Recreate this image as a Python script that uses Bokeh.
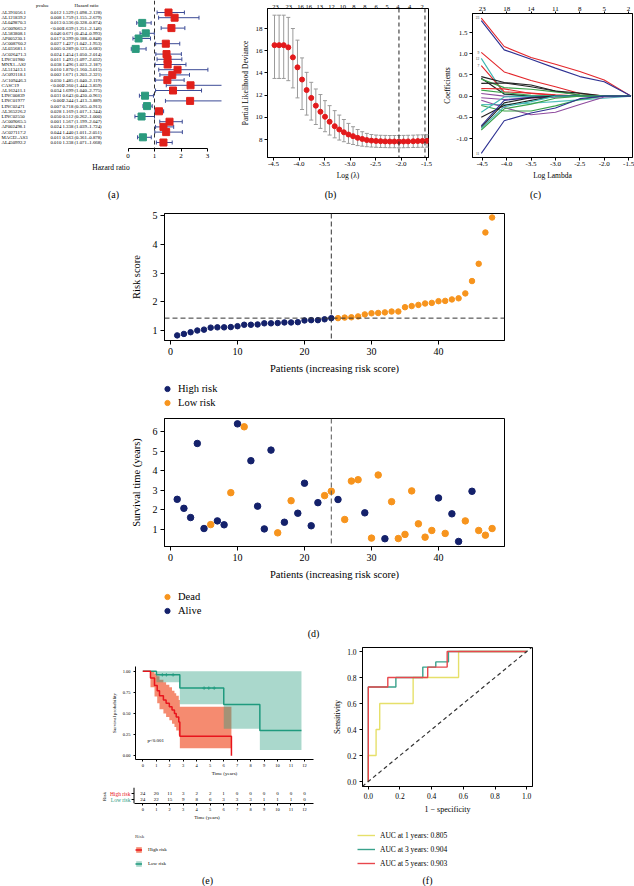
import math
from bokeh.plotting import figure
from bokeh.models import (Range1d, LinearAxis, FixedTicker, Span, Legend,
                          LegendItem, NumeralTickFormatter, Slope)
from bokeh.layouts import row, column
from bokeh.embed import file_html
from bokeh.resources import INLINE
from bokeh.core.properties import value

# ---------------- data: (a) univariate Cox forest ----------------
genes = ["AL391056.1", "AL121839.2", "AL049870.3", "AC009065.2", "AL583808.1", "AP005230.1",
         "AC008760.2", "AL035681.1", "AC026471.3", "LINC01980", "MNX1–AS2", "AL513413.1",
         "AC092118.1", "AC109446.3", "CASC19", "AL162411.1", "LINC00839", "LINC01977",
         "LINC02471", "AL365226.2", "LINC02550", "AC009065.5", "AP002498.1", "AC027117.2",
         "MAGI2–AS3", "AL450992.2"]
pvalues = ["0.012", "0.008", "0.013", "<0.001", "0.046", "0.017", "0.027", "0.005", "0.024",
           "0.011", "0.038", "0.010", "0.002", "0.030", "<0.001", "0.034", "0.031", "<0.001",
           "0.007", "0.028", "0.050", "0.001", "0.024", "0.044", "0.011", "0.010"]
hr = [1.529, 1.759, 0.536, 1.639, 0.671, 0.399, 1.427, 0.289, 1.454, 1.493, 1.496, 1.870, 1.671,
      1.485, 2.360, 1.699, 0.643, 2.344, 0.718, 1.169, 0.512, 1.567, 1.338, 1.440, 0.563, 1.338]
hr_low = [1.098, 1.155, 0.328, 1.251, 0.454, 0.188, 1.042, 0.123, 1.050, 1.097, 1.023, 1.160, 1.203,
          1.040, 1.444, 1.040, 0.430, 1.413, 0.565, 1.017, 0.262, 1.199, 1.039, 1.011, 0.361, 1.071]
hr_high = [2.128, 2.679, 0.874, 2.146, 0.993, 0.848, 1.953, 0.683, 2.014, 2.032, 2.187, 3.015, 2.321,
           2.119, 3.859, 2.775, 0.961, 3.889, 0.913, 1.344, 1.000, 2.047, 1.724, 2.051, 0.878, 1.668]
hr_ticks = [0, 1, 2, 3]

# ---------------- data: (b) cross-validation ----------------
cv_loglam = [-4.48, -4.39, -4.30, -4.21, -4.12, -4.03, -3.94, -3.85, -3.76, -3.67, -3.58, -3.49,
             -3.40, -3.30, -3.21, -3.12, -3.03, -2.94, -2.85, -2.76, -2.67, -2.58, -2.49, -2.40,
             -2.31, -2.22, -2.13, -2.04, -1.95, -1.86, -1.76, -1.67, -1.58, -1.49]
cv_dev = [16.5, 16.5, 16.5, 16.3, 15.4, 14.5, 13.4, 12.45, 11.75, 11.05, 10.5, 10.05, 9.6, 9.2,
          8.9, 8.65, 8.45, 8.3, 8.15, 8.05, 7.95, 7.9, 7.87, 7.85, 7.83, 7.82, 7.82, 7.81, 7.82,
          7.83, 7.84, 7.86, 7.87, 7.88]
cv_low = [13.5, 13.5, 13.5, 13.3, 12.65, 11.75, 10.7, 10.2, 9.75, 9.35, 9.0, 8.7, 8.4, 8.15, 7.95,
          7.8, 7.65, 7.55, 7.45, 7.4, 7.35, 7.32, 7.3, 7.28, 7.27, 7.26, 7.26, 7.25, 7.26, 7.27,
          7.28, 7.29, 7.3, 7.31]
cv_up = [19.2, 19.2, 19.2, 19.0, 18.0, 16.95, 15.35, 14.05, 13.15, 12.55, 12.05, 11.5, 11.05, 10.6,
         10.2, 9.8, 9.45, 9.15, 8.9, 8.7, 8.55, 8.45, 8.4, 8.38, 8.37, 8.36, 8.36, 8.36, 8.37,
         8.38, 8.39, 8.41, 8.42, 8.43]
cv_nz_pos = [-4.461, -4.20, -3.971, -3.807, -3.592, -3.363, -3.141, -2.925, -2.71, -2.487,
             -2.271, -2.063, -1.833, -1.584]
cv_nz_lab = ["23", "23", "16", "16", "13", "12", "10", "8", "8", "6", "5", "4", "4", "2"]
cv_lambda_min = -2.04
cv_lambda_1se = -1.53
cv_xticks = [-4.5, -4.0, -3.5, -3.0, -2.5, -2.0, -1.5]
cv_yticks = [8, 10, 12, 14, 16, 18]

# ---------------- data: (c) coefficient paths ----------------
coef_knots = [-4.52, -4.05, -3.5, -3.0, -2.5, -2.0, -1.45]
coef_paths = [
    [1.84, 1.17, 0.91, 0.75, 0.58, 0.38, 0.0],
    [1.78, 1.09, 0.87, 0.66, 0.46, 0.34, 0.0],
    [1.03, 0.57, 0.37, 0.22, 0.06, 0.0, 0.0],
    [0.89, 0.04, 0.0, 0.0, 0.0, 0.0, 0.0],
    [0.72, 0.10, 0.07, 0.03, 0.0, 0.0, 0.0],
    [0.46, 0.32, 0.26, 0.12, 0.02, 0.0, 0.0],
    [0.42, 0.05, 0.0, 0.0, 0.0, 0.0, 0.0],
    [0.40, 0.20, 0.16, 0.10, 0.03, 0.0, 0.0],
    [0.30, 0.31, 0.22, 0.12, 0.07, 0.0, 0.0],
    [0.18, 0.17, 0.06, 0.02, 0.0, 0.0, 0.0],
    [0.14, 0.08, 0.02, 0.0, 0.0, 0.0, 0.0],
    [0.06, 0.0, -0.03, -0.02, 0.0, 0.0, 0.0],
    [-0.04, -0.08, -0.05, -0.02, 0.0, 0.0, 0.0],
    [-0.20, -0.20, -0.17, -0.13, -0.09, -0.05, 0.0],
    [-0.10, -0.27, -0.44, -0.38, -0.20, -0.02, 0.0],
    [-0.22, -0.35, -0.35, -0.23, -0.08, 0.0, 0.0],
    [-0.38, -0.02, 0.0, 0.0, 0.0, 0.0, 0.0],
    [-0.50, -0.22, -0.10, 0.0, 0.0, 0.0, 0.0],
    [-0.70, -0.10, -0.03, 0.0, 0.0, 0.0, 0.0],
    [-0.74, -0.16, -0.04, 0.0, 0.0, 0.0, 0.0],
    [-0.76, -0.25, -0.13, 0.0, 0.0, 0.0, 0.0],
    [-0.80, -0.30, -0.19, -0.05, 0.0, 0.0, 0.0],
    [-1.35, -0.58, -0.40, -0.28, -0.06, 0.0, 0.0],
]
coef_colors = ["#e3262b", "#2e3192", "#e3262b", "#3fb6b2", "#e3262b", "#222222", "#222222",
               "#3aa24a", "#222222", "#e3262b", "#3aa24a", "#8e4a9e", "#8e4a9e", "#56c1bd",
               "#8e4a9e", "#3aa24a", "#3fb6b2", "#222222", "#2e3192", "#222222", "#3fb6b2",
               "#3aa24a", "#2e3192"]
coef_top_lab = ["23", "18", "14", "11", "8", "5", "2"]
coef_xticks = [-4.5, -4.0, -3.5, -3.0, -2.5, -2.0, -1.5]
coef_yticks = [-1.0, -0.5, 0.0, 0.5, 1.0, 1.5]
coef_tag_y = [1.86, 1.03, 0.89, 0.72, -1.35]
coef_tag_txt = ["23", "9", "12", "7", "11"]

# ---------------- data: (d) risk score & survival ----------------
risk_score = [0.83, 0.88, 0.94, 1.00, 1.03, 1.10, 1.11, 1.11, 1.12, 1.15, 1.20, 1.20, 1.21, 1.25,
              1.25, 1.26, 1.28, 1.28, 1.29, 1.35, 1.36, 1.36, 1.39, 1.43, 1.43, 1.45, 1.46, 1.49,
              1.56, 1.60, 1.61, 1.63, 1.66, 1.66, 1.81, 1.85, 1.89, 1.94, 1.96, 2.02, 2.03, 2.08,
              2.12, 2.29, 2.72, 3.32, 4.41, 4.93]
risk_first_group = [1, 1, 1, 1, 1, 1, 1, 1, 1, 1, 1, 1, 1, 1, 1, 1, 1, 1, 1, 1, 1, 1, 1, 1,
                    0, 0, 0, 0, 0, 0, 0, 0, 0, 0, 0, 0, 0, 0, 0, 0, 0, 0, 0, 0, 0, 0, 0, 0]
risk_cutoff = 1.43
risk_split_patient = 24
surv_years = [2.54, 2.08, 1.61, 5.39, 1.05, 1.25, 1.44, 1.24, 2.88, 6.39, 6.24, 4.51, 2.19, 1.03,
              5.05, 0.83, 1.37, 2.47, 1.83, 3.36, 1.19, 2.37, 2.73, 2.95, 2.53, 1.51, 3.47, 3.54,
              1.85, 0.56, 3.78, 0.53, 2.42, 0.54, 0.75, 2.97, 1.29, 0.61, 0.95, 2.61, 0.80, 1.80,
              0.39, 1.44, 2.95, 0.95, 0.71, 1.05]
surv_dead = [0, 0, 0, 0, 0, 1, 0, 0, 1, 0, 1, 0, 0, 0, 0, 1, 0, 1, 0, 0, 0, 0, 1, 1,
             0, 1, 1, 1, 0, 1, 1, 0, 1, 1, 1, 1, 1, 1, 1, 0, 1, 0, 0, 1, 0, 1, 1, 1]
d_xticks = [0, 10, 20, 30, 40]
risk_yticks = [1, 2, 3, 4, 5]
surv_yticks = [1, 2, 3, 4, 5, 6]

# ---------------- data: (e) Kaplan-Meier ----------------
km_hi_t = [0, 0.57, 0.87, 1.07, 1.24, 1.53, 1.73, 1.97, 2.17, 2.35, 2.48, 2.67, 2.75, 6.58]
km_hi_s = [1.0, 0.92, 0.83, 0.77, 0.71, 0.66, 0.62, 0.58, 0.54, 0.50, 0.46, 0.40, 0.23, 0.0]
km_hi_up = [1.0, 1.0, 0.97, 0.94, 0.90, 0.87, 0.84, 0.81, 0.77, 0.74, 0.71, 0.66, 0.58, 0.0]
km_hi_lo = [1.0, 0.81, 0.70, 0.62, 0.55, 0.50, 0.46, 0.42, 0.38, 0.34, 0.30, 0.24, 0.09, 0.0]
km_lo_t = [0, 1.01, 2.75, 6.01, 8.69, 11.78]
km_lo_s = [1.0, 0.957, 0.80, 0.606, 0.30, 0.30]
km_lo_up = [1.0, 1.0, 1.0, 1.0, 1.0, 1.0]
km_lo_lo = [1.0, 0.87, 0.61, 0.32, 0.07, 0.07]
km_lo_cens_t = [1.45, 1.75, 2.25, 4.55, 4.9, 5.3]
km_lo_cens_s = [0.957, 0.957, 0.957, 0.80, 0.80, 0.80]
km_xticks = [0, 1, 2, 3, 4, 5, 6, 7, 8, 9, 10, 11, 12]
km_yticks = [0, 0.25, 0.5, 0.75, 1.0]
at_risk_high = [24, 20, 11, 3, 2, 2, 1, 0, 0, 0, 0, 0, 0]
at_risk_low = [24, 22, 15, 9, 8, 6, 3, 3, 3, 1, 1, 1, 0]
risk_rows = [1, 0]
risk_row_names = ["High risk", "Low risk"]
km_pval = "p<0.001"

# ---------------- data: (f) time-dependent ROC ----------------
roc1_fpr = [0, 0, 0.049, 0.072, 0.283, 0.57, 1.0]
roc1_tpr = [0, 0.2, 0.4, 0.6, 0.8, 1.0, 1.0]
roc3_fpr = [0, 0, 0.174, 0.344, 0.426, 0.506, 1.0]
roc3_tpr = [0, 0.727, 0.8, 0.88, 0.92, 1.0, 1.0]
roc5_fpr = [0, 0, 0.123, 0.375, 0.498, 1.0]
roc5_tpr = [0, 0.727, 0.8, 0.88, 1.0, 1.0]
roc_labels = ["AUC at 1 years: 0.805", "AUC at 3 years: 0.904", "AUC at 5 years: 0.903"]
roc_ticks = [0.0, 0.2, 0.4, 0.6, 0.8, 1.0]

# ---------------- styling helpers ----------------
FONT = "Liberation Serif"
NAVY = "#14216b"
ORANGE = "#f7941d"
KM_RED = "#e8141c"
KM_TEAL = "#1f9a7e"
SALMON = "#ef3d10"
TEALBAND = "#2a9d80"
ROC_COLS = ["#e6e06a", "#3aa28c", "#e8474c"]


def make_fig(box, frame, xr, yr, **kw):
    bx0, by0, bx1, by1 = box
    fx0, fy0, fx1, fy1 = frame
    p = figure(width=bx1 - bx0, height=by1 - by0,
               x_range=Range1d(*xr), y_range=Range1d(*yr),
               output_backend="svg", toolbar_location=None, frame_align=False,
               min_border_left=fx0 - bx0, min_border_right=bx1 - fx1,
               min_border_top=fy0 - by0, min_border_bottom=by1 - fy1, **kw)
    p.grid.visible = False
    p.outline_line_color = "black"
    p.outline_line_width = 1
    p.background_fill_color = "white"
    p.border_fill_color = "white"
    return p


def make_strip(box):
    """Blank strip whose frame fills it; its ranges are the page pixel grid."""
    bx0, by0, bx1, by1 = box
    p = figure(width=bx1 - bx0, height=by1 - by0,
               x_range=Range1d(bx0, bx1), y_range=Range1d(by1, by0),
               output_backend="svg", toolbar_location=None, frame_align=False,
               x_axis_location=None, y_axis_location=None, min_border=0,
               extra_y_ranges={"off": Range1d(10000, 10001)})
    p.min_border_left = 0
    p.min_border_right = 0
    p.min_border_top = 0
    p.min_border_bottom = 0
    p.grid.visible = False
    p.outline_line_color = None
    p.background_fill_color = "white"
    p.border_fill_color = "white"
    return p


def strip_text(p, xs, ys, texts, size="10px"):
    p.text(x=xs, y=ys, text=texts, text_font=value(FONT), text_font_size=size,
           text_align="center", text_baseline="middle", text_color="black")


def style_axis(ax, tick_size, label_size, tick_out=3, standoff=2, label_standoff=3):
    ax.major_label_text_font = FONT
    ax.major_label_text_font_size = f"{tick_size}px"
    ax.major_label_text_color = "black"
    ax.axis_label_text_font = FONT
    ax.axis_label_text_font_size = f"{label_size}px"
    ax.axis_label_text_font_style = "normal"
    ax.axis_label_text_color = "black"
    ax.major_tick_out = tick_out
    ax.major_tick_in = 0
    ax.minor_tick_line_color = None
    ax.major_label_standoff = standoff
    ax.axis_label_standoff = label_standoff
    ax.axis_line_color = "black"
    ax.major_tick_line_color = "black"


def style_legend(leg, size, gw, gh, spacing, standoff):
    leg.label_text_font = FONT
    leg.label_text_font_size = f"{size}px"
    leg.label_text_color = "black"
    leg.glyph_width = gw
    leg.glyph_height = gh
    leg.label_height = gh
    leg.label_width = 10
    leg.spacing = spacing
    leg.padding = 0
    leg.margin = 0
    leg.label_standoff = standoff
    leg.border_line_color = None
    leg.background_fill_alpha = 0


def leg_loc(box, left, bottom):
    return (left - box[0], box[3] - bottom)


# ================= (a) forest plot =================
def a_x(px): return (px - 127.5) / 26.5
def a_y(py): return 1 + (py - 12) / 5.2


fa = make_fig((0, 0, 225, 186), (0, 0, 221, 148), (a_x(0), a_x(221)), (a_y(148), a_y(0)),
              y_axis_location=None)
fa.outline_line_color = None
rows = list(range(1, len(genes) + 1))
hr_text = [f"{h:.3f} ({lo:.3f}–{hi:.3f})" for h, lo, hi in zip(hr, hr_low, hr_high)]
mk_col = ["#e0201b" if h > 1 else "#2b9a7e" for h in hr]
txt_kw = dict(text_font=value(FONT), text_font_size="4.8px", text_baseline="middle",
              text_color="black")
fa.text(x=a_x(1), y=rows, text=genes, text_align="left", **txt_kw)
fa.text(x=a_x(50), y=rows, text=pvalues, text_align="left", **txt_kw)
fa.text(x=a_x(62), y=rows, text=hr_text, text_align="left", **txt_kw)
fa.text(x=[a_x(42), a_x(86)], y=a_y(5), text=["pvalue", "Hazard ratio"], text_align="center",
        **txt_kw)
fa.add_layout(Span(location=1, dimension="height", line_dash="4 3", line_color="#333333",
                   line_width=1))
fa.segment(x0=hr_low, y0=rows, x1=hr_high, y1=rows, line_color="#3c4b96", line_width=1)
fa.scatter(x=hr_low + hr_high, y=rows + rows, marker="dash", angle=math.pi / 2, size=4,
           line_color="#3c4b96", line_width=1)
fa.scatter(x=hr, y=rows, marker="square", size=7, fill_color=mk_col, line_color=mk_col)
fa.xaxis.ticker = FixedTicker(ticks=hr_ticks)
fa.xaxis.bounds = (hr_ticks[0], hr_ticks[-1])
fa.xaxis.axis_label = "Hazard ratio"
style_axis(fa.xaxis[0], 7, 7.5, 3, 2, 2)


# ================= (b) CV deviance =================
def b_x(px): return -4.5 + (px - 273) / 51
def b_y(py): return 8 - (py - 139) / 11.1


fb = make_fig((225, 0, 440, 186), (267, 8, 428, 157), (b_x(267), b_x(428)), (b_y(157), b_y(8)))
fb.segment(x0=cv_loglam, y0=cv_low, x1=cv_loglam, y1=cv_up, line_color="#9a9a9a", line_width=1)
fb.scatter(x=cv_loglam + cv_loglam, y=cv_low + cv_up, marker="dash", size=4,
           line_color="#9a9a9a", line_width=1)
fb.scatter(x=cv_loglam, y=cv_dev, marker="circle", size=5, fill_color="#e31a1c",
           line_color="#e31a1c")
for loc in (cv_lambda_min, cv_lambda_1se):
    fb.add_layout(Span(location=loc, dimension="height", line_dash="4 3", line_color="#222222",
                       line_width=1))
fb.xaxis.ticker = FixedTicker(ticks=cv_xticks)
fb.xaxis.formatter = NumeralTickFormatter(format="0.0")
fb.xaxis.axis_label = "Log (λ)"
fb.yaxis.ticker = FixedTicker(ticks=cv_yticks)
fb.yaxis.axis_label = "Partial Likelihood Deviance"
style_axis(fb.xaxis[0], 7, 7.5, 3, 1, 2)
style_axis(fb.yaxis[0], 7, 7.5, 3, 2, 3)
btop = LinearAxis(ticker=FixedTicker(ticks=cv_nz_pos),
                  major_label_overrides=dict(zip(cv_nz_pos, cv_nz_lab)))
style_axis(btop, 6.5, 6.5, 0, 0, 0)
btop.axis_line_color = None
fb.add_layout(btop, "above")


# ================= (c) coefficient paths =================
def c_x(px): return -4.5 + (px - 478) / 50
def c_y(py): return (95.6 - py) / 42.4


fc = make_fig((440, 0, 634, 186), (468, 13, 632, 157), (c_x(468), c_x(632)), (c_y(157), c_y(13)))
for path, col in zip(coef_paths, coef_colors):
    fc.line(x=coef_knots, y=path, line_color=col, line_width=1.1)
fc.text(x=c_x(475), y=coef_tag_y, text=coef_tag_txt, text_font=value(FONT), text_font_size="3.5px",
        text_align="right", text_baseline="middle", text_color="#333333")
fc.xaxis.ticker = FixedTicker(ticks=coef_xticks)
fc.xaxis.formatter = NumeralTickFormatter(format="0.0")
fc.xaxis.axis_label = "Log Lambda"
fc.yaxis.ticker = FixedTicker(ticks=coef_yticks)
fc.yaxis.formatter = NumeralTickFormatter(format="0.0")
fc.yaxis.axis_label = "Coefficients"
style_axis(fc.xaxis[0], 7, 7.5, 3, 1, 2)
style_axis(fc.yaxis[0], 7, 7.5, 3, 2, 1)
ctop = LinearAxis(ticker=FixedTicker(ticks=coef_xticks),
                  major_label_overrides=dict(zip(coef_xticks, coef_top_lab)))
style_axis(ctop, 7, 7, 2, 1, 0)
fc.add_layout(ctop, "above")

# strip with (a) (b) (c)
s1 = make_strip((0, 186, 634, 200))
strip_text(s1, [113, 330, 535], [194, 194, 194], ["(a)", "(b)", "(c)"])


# ================= (d) risk score =================
def d_x(px): return (px - 170) / 6.7
def d1_y(py): return 1 + (330 - py) / 28.75


patients = list(range(1, len(risk_score) + 1))
g1 = [i for i, g in enumerate(risk_first_group) if g == 1]
g0 = [i for i, g in enumerate(risk_first_group) if g == 0]
fd1 = make_fig((0, 200, 634, 380), (164, 213, 504, 340), (d_x(164), d_x(504)),
               (d1_y(340), d1_y(213)))
fd1.scatter(x=[patients[i] for i in g1], y=[risk_score[i] for i in g1], size=5.5,
            fill_color=NAVY, line_color=NAVY)
fd1.scatter(x=[patients[i] for i in g0], y=[risk_score[i] for i in g0], size=5.5,
            fill_color=ORANGE, line_color=ORANGE)
fd1.add_layout(Span(location=risk_cutoff, dimension="width", line_dash="5 3",
                    line_color="#333333", line_width=1))
fd1.add_layout(Span(location=risk_split_patient, dimension="height", line_dash="5 3",
                    line_color="#333333", line_width=1))
fd1.xaxis.ticker = FixedTicker(ticks=d_xticks)
fd1.xaxis.axis_label = "Patients (increasing risk score)"
fd1.yaxis.ticker = FixedTicker(ticks=risk_yticks)
fd1.yaxis.axis_label = "Risk score"
style_axis(fd1.xaxis[0], 10, 10.5, 4, 3, 5)
style_axis(fd1.yaxis[0], 10, 10.5, 4, 3, 8)

# legend strip (High risk / Low risk): key renderers draw the same data on an off-frame range
box2 = (0, 380, 634, 410)
s2 = make_strip(box2)
k_high = s2.scatter(x=[patients[i] for i in g1], y=[risk_score[i] for i in g1], size=5.5,
                    fill_color=NAVY, line_color=NAVY, y_range_name="off")
k_low = s2.scatter(x=[patients[i] for i in g0], y=[risk_score[i] for i in g0], size=5.5,
                   fill_color=ORANGE, line_color=ORANGE, y_range_name="off")
leg1 = Legend(items=[LegendItem(label="High risk", renderers=[k_high]),
                     LegendItem(label="Low risk", renderers=[k_low])],
              location=leg_loc(box2, 160, 409))
style_legend(leg1, 10.5, 14, 13, 1, 4)
s2.add_layout(leg1)


# ================= (d) survival status =================
def d2_y(py): return 1 + (529 - py) / 19.6


alive = [i for i, s in enumerate(surv_dead) if s == 0]
dead = [i for i, s in enumerate(surv_dead) if s == 1]
fd2 = make_fig((0, 410, 634, 584), (164, 418, 504, 546), (d_x(164), d_x(504)),
               (d2_y(546), d2_y(418)))
fd2.scatter(x=[patients[i] for i in alive], y=[surv_years[i] for i in alive], size=6.5,
            fill_color=NAVY, line_color=NAVY)
fd2.scatter(x=[patients[i] for i in dead], y=[surv_years[i] for i in dead], size=6.5,
            fill_color=ORANGE, line_color=ORANGE)
fd2.add_layout(Span(location=risk_split_patient, dimension="height", line_dash="5 3",
                    line_color="#555555", line_width=1))
fd2.xaxis.ticker = FixedTicker(ticks=d_xticks)
fd2.xaxis.axis_label = "Patients (increasing risk score)"
fd2.yaxis.ticker = FixedTicker(ticks=surv_yticks)
fd2.yaxis.axis_label = "Survival time (years)"
style_axis(fd2.xaxis[0], 10, 10.5, 4, 3, 5)
style_axis(fd2.yaxis[0], 10, 10.5, 4, 3, 8)

box3 = (0, 584, 634, 640)
s3 = make_strip(box3)
k_dead = s3.scatter(x=[patients[i] for i in dead], y=[surv_years[i] for i in dead], size=6.5,
                    fill_color=ORANGE, line_color=ORANGE, y_range_name="off")
k_alive = s3.scatter(x=[patients[i] for i in alive], y=[surv_years[i] for i in alive], size=6.5,
                     fill_color=NAVY, line_color=NAVY, y_range_name="off")
leg2 = Legend(items=[LegendItem(label="Dead", renderers=[k_dead]),
                     LegendItem(label="Alive", renderers=[k_alive])],
              location=leg_loc(box3, 160, 617))
style_legend(leg2, 10.5, 14, 13, 1, 4)
s3.add_layout(leg2)
strip_text(s3, [313], [633], ["(d)"])


# ================= (e) Kaplan-Meier =================
def e_x(px): return (px - 142.3) / 13.47
def e_y(py): return (755.3 - py) / 84.6


fe = make_fig((0, 640, 330, 782), (135, 666, 313, 759), (e_x(135), e_x(313)),
              (e_y(759), e_y(666)))
fe.outline_line_color = None
fe.varea_step(x=km_hi_t, y1=km_hi_lo, y2=km_hi_up, step_mode="after", fill_color=SALMON,
              fill_alpha=0.6)
fe.varea_step(x=km_lo_t, y1=km_lo_lo, y2=km_lo_up, step_mode="after", fill_color=TEALBAND,
              fill_alpha=0.4)
fe.step(x=km_lo_t, y=km_lo_s, mode="after", line_color=KM_TEAL, line_width=1.5)
fe.step(x=km_hi_t, y=km_hi_s, mode="after", line_color=KM_RED, line_width=1.5)
fe.scatter(x=km_lo_cens_t, y=km_lo_cens_s, marker="cross", size=3.5, line_color=KM_TEAL,
           line_width=0.8)
fe.text(x=e_x(147), y=e_y(740), text=[km_pval], text_font=value(FONT), text_font_size="5px",
        text_align="left", text_baseline="middle", text_color="black")
fe.xaxis.ticker = FixedTicker(ticks=km_xticks)
fe.xaxis.axis_label = "Time (years)"
fe.yaxis.ticker = FixedTicker(ticks=km_yticks)
fe.yaxis.formatter = NumeralTickFormatter(format="0.00")
fe.yaxis.axis_label = "Survival probability"
style_axis(fe.xaxis[0], 4.5, 5, 2, 2, 1)
style_axis(fe.yaxis[0], 4.5, 5, 2, 3, 3)


# ================= (e) risk table =================
def t_y(py): return (799 - py) / 6


ftab = make_fig((0, 782, 330, 822), (100, 787, 313, 803), (e_x(100), e_x(313)),
                (t_y(803), t_y(787)), y_axis_location=None)
ftab.outline_line_color = None
num_kw = dict(text_font=value(FONT), text_font_size="5px", text_align="center",
              text_baseline="middle", text_color="black")
ftab.text(x=km_xticks, y=risk_rows[0], text=[str(n) for n in at_risk_high], **num_kw)
ftab.text(x=km_xticks, y=risk_rows[1], text=[str(n) for n in at_risk_low], **num_kw)
ftab.text(x=e_x(130), y=risk_rows, text=risk_row_names, text_color=[KM_RED, KM_TEAL],
          text_font=value(FONT), text_font_size="5.5px", text_align="right",
          text_baseline="middle")
ftab.text(x=e_x(104), y=sum(risk_rows) / 2, text=["Risk"], angle=math.pi / 2,
          text_font=value(FONT), text_font_size="5px", text_align="center",
          text_baseline="middle", text_color="black")
ftab.add_layout(Span(location=e_x(133.5), dimension="height", line_color="black", line_width=1))
ftab.scatter(x=e_x(132.3), y=risk_rows, marker="dash", size=2.5, line_color="black", line_width=1)
ftab.xaxis.ticker = FixedTicker(ticks=km_xticks)
ftab.xaxis.bounds = (e_x(133.5), e_x(313))
ftab.xaxis.axis_label = "Time (years)"
style_axis(ftab.xaxis[0], 4.5, 5, 2, 2, 1)

box_e = (0, 822, 330, 886)
se = make_strip(box_e)
kb_hi = se.varea_step(x=km_hi_t, y1=km_hi_lo, y2=km_hi_up, step_mode="after",
                      fill_color=SALMON, fill_alpha=0.6, y_range_name="off")
kl_hi = se.step(x=km_hi_t, y=km_hi_s, mode="after", line_color=KM_RED, line_width=1.5,
                y_range_name="off")
kb_lo = se.varea_step(x=km_lo_t, y1=km_lo_lo, y2=km_lo_up, step_mode="after",
                      fill_color=TEALBAND, fill_alpha=0.4, y_range_name="off")
kl_lo = se.step(x=km_lo_t, y=km_lo_s, mode="after", line_color=KM_TEAL, line_width=1.5,
                y_range_name="off")
leg3 = Legend(items=[LegendItem(label="High risk", renderers=[kb_hi, kl_hi]),
                     LegendItem(label="Low risk", renderers=[kb_lo, kl_lo])],
              location=leg_loc(box_e, 135, 867), title="Risk")
style_legend(leg3, 5, 7, 7, 7, 6)
leg3.title_text_font = FONT
leg3.title_text_font_size = "5px"
leg3.title_text_font_style = "normal"
leg3.title_standoff = 7
se.add_layout(leg3)
strip_text(se, [207], [880], ["(e)"])


# ================= (f) ROC =================
def f_x(px): return (px - 363) / 163
def f_y(py): return (781 - py) / 130


roc_fpr = [roc1_fpr, roc3_fpr, roc5_fpr]
roc_tpr = [roc1_tpr, roc3_tpr, roc5_tpr]
ff = make_fig((330, 640, 634, 822), (357, 647, 532, 786), (f_x(357), f_x(532)),
              (f_y(786), f_y(647)))
ff.add_layout(Slope(gradient=1, y_intercept=0, line_dash="4 3", line_color="#333333",
                    line_width=1.2))
for fx, ty, col in zip(roc_fpr, roc_tpr, ROC_COLS):
    ff.step(x=fx, y=ty, mode="after", line_color=col, line_width=1.4)
ff.xaxis.ticker = FixedTicker(ticks=roc_ticks)
ff.xaxis.formatter = NumeralTickFormatter(format="0.0")
ff.xaxis.axis_label = "1 − specificity"
ff.yaxis.ticker = FixedTicker(ticks=roc_ticks)
ff.yaxis.formatter = NumeralTickFormatter(format="0.0")
ff.yaxis.axis_label = "Sensitivity"
style_axis(ff.xaxis[0], 7.5, 8, 3, 3, 3)
style_axis(ff.yaxis[0], 7.5, 8, 3, 3, 2)

box_f = (330, 822, 634, 886)
sf = make_strip(box_f)
roc_keys = [sf.step(x=fx, y=ty, mode="after", line_color=col, line_width=1.4, y_range_name="off")
            for fx, ty, col in zip(roc_fpr, roc_tpr, ROC_COLS)]
leg4 = Legend(items=[LegendItem(label=lab, renderers=[r]) for lab, r in zip(roc_labels, roc_keys)],
              location=leg_loc(box_f, 357, 868))
style_legend(leg4, 7.5, 18, 10, 4, 5)
sf.add_layout(leg4)
strip_text(sf, [427], [880], ["(f)"])

layout = column(row(fa, fb, fc), s1, fd1, s2, fd2, s3,
                row(column(fe, ftab, se), column(ff, sf)))
open("out.html", "w").write(file_html(layout, INLINE))
